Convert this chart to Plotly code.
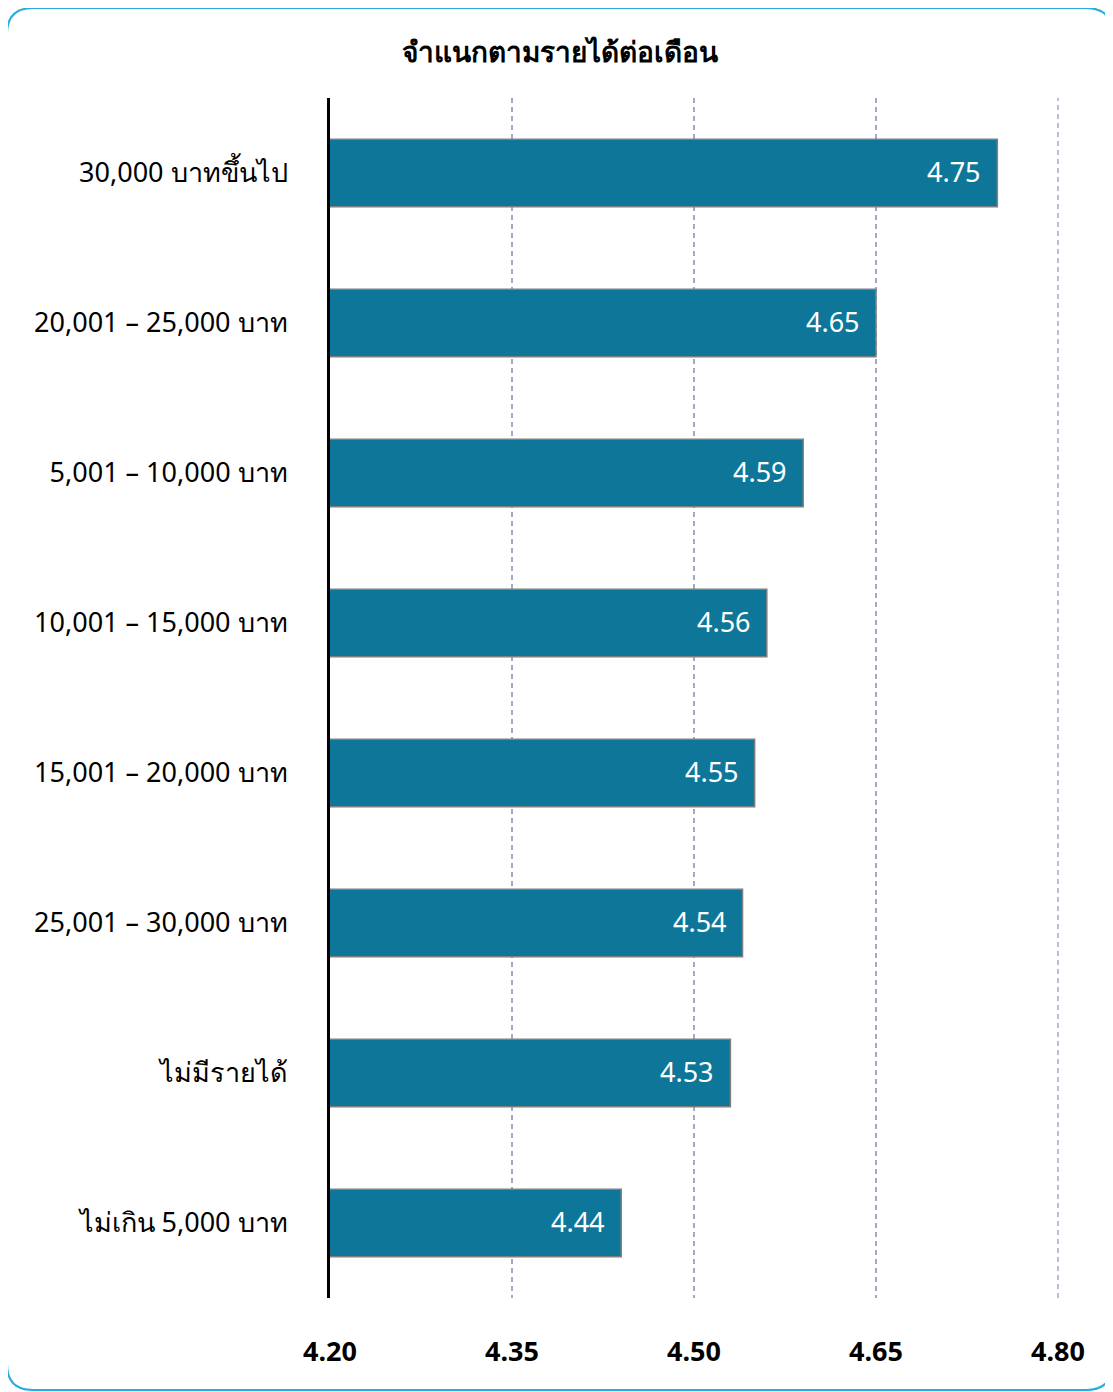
import plotly.graph_objects as go

categories = [
    "30,000 บาทขึ้นไป",
    "20,001 – 25,000 บาท",
    "5,001 – 10,000 บาท",
    "10,001 – 15,000 บาท",
    "15,001 – 20,000 บาท",
    "25,001 – 30,000 บาท",
    "ไม่มีรายได้",
    "ไม่เกิน 5,000 บาท",
]
values = [4.75, 4.65, 4.59, 4.56, 4.55, 4.54, 4.53, 4.44]
tick_vals = [4.20, 4.35, 4.50, 4.65, 4.80]
tick_text = ["4.20", "4.35", "4.50", "4.65", "4.80"]
title_text = "จำแนกตามรายได้ต่อเดือน"

FONT = "Noto Sans, Tahoma, sans-serif"
GRID = "#A2A9C6"
OFF = 8  # page body margin
W, H = 1113 - OFF, 1392 - OFF
L = 330 - OFF
T = 98 - OFF
R = W - (1058 - OFF)
B = H - (1298 - OFF)
pw, ph = W - L - R, H - T - B

fig = go.Figure()
fig.add_trace(go.Bar(
    y=categories, x=values, orientation="h",
    marker=dict(color="#0E7799", line=dict(color="#7F7F7F", width=1.5)),
    width=0.45,
    hoverinfo="skip",
))

for c, v in zip(categories, values):
    fig.add_annotation(x=v, y=c, xref="x", yref="y", text=f"{v:.2f}",
                       showarrow=False, xanchor="right", xshift=-14, yshift=2,
                       font=dict(color="white", size=27, family=FONT))

def px_x(p):
    return (p - OFF - L) / pw

def px_y(p):
    return (H - B - (p - OFF)) / ph

x0, x1, y0, y1, rad = 7, 1112, 8, 1390, 26
path = (
    f"M {px_x(x0+rad)},{px_y(y0)} L {px_x(x1-rad)},{px_y(y0)} "
    f"Q {px_x(x1)},{px_y(y0)} {px_x(x1)},{px_y(y0+rad)} "
    f"L {px_x(x1)},{px_y(y1-rad)} Q {px_x(x1)},{px_y(y1)} {px_x(x1-rad)},{px_y(y1)} "
    f"L {px_x(x0+rad)},{px_y(y1)} Q {px_x(x0)},{px_y(y1)} {px_x(x0)},{px_y(y1-rad)} "
    f"L {px_x(x0)},{px_y(y0+rad)} Q {px_x(x0)},{px_y(y0)} {px_x(x0+rad)},{px_y(y0)} Z"
)
fig.add_shape(type="path", path=path, xref="paper", yref="paper",
              line=dict(color="#29ABE2", width=2), fillcolor="rgba(0,0,0,0)", layer="below")

# last gridline at the range end (4.80), which plotly skips at the edge
fig.add_shape(type="line", xref="paper", yref="paper", x0=1, x1=1, y0=0, y1=1,
              line=dict(color=GRID, width=1.5, dash="5px,4px"), layer="below")

fig.update_layout(
    width=W, height=H,
    margin=dict(l=L, r=R, t=T, b=B),
    paper_bgcolor="white", plot_bgcolor="white",
    showlegend=False,
    title=dict(text=f"<b>{title_text}</b>", x=(560 - OFF) / W, xanchor="center",
               y=1 - (52 - OFF) / H, yanchor="middle",
               font=dict(size=28, color="black", family=FONT)),
    font=dict(family=FONT, color="black"),
    xaxis=dict(range=[tick_vals[0], tick_vals[-1]], tickvals=tick_vals, ticktext=tick_text,
               showgrid=True, gridcolor=GRID, griddash="5px,4px", gridwidth=1.5,
               zeroline=False, showline=False,
               tickfont=dict(size=27, family=FONT, color="black", weight="bold"),
               ticks="outside", ticklen=30, tickcolor="rgba(0,0,0,0)"),
    yaxis=dict(autorange="reversed", showgrid=False, zeroline=False,
               showline=True, linecolor="black", linewidth=3,
               tickfont=dict(size=27, family=FONT, color="black"),
               ticks="outside", ticklen=34, tickcolor="rgba(0,0,0,0)"),
)

fig.write_html("out.html")
